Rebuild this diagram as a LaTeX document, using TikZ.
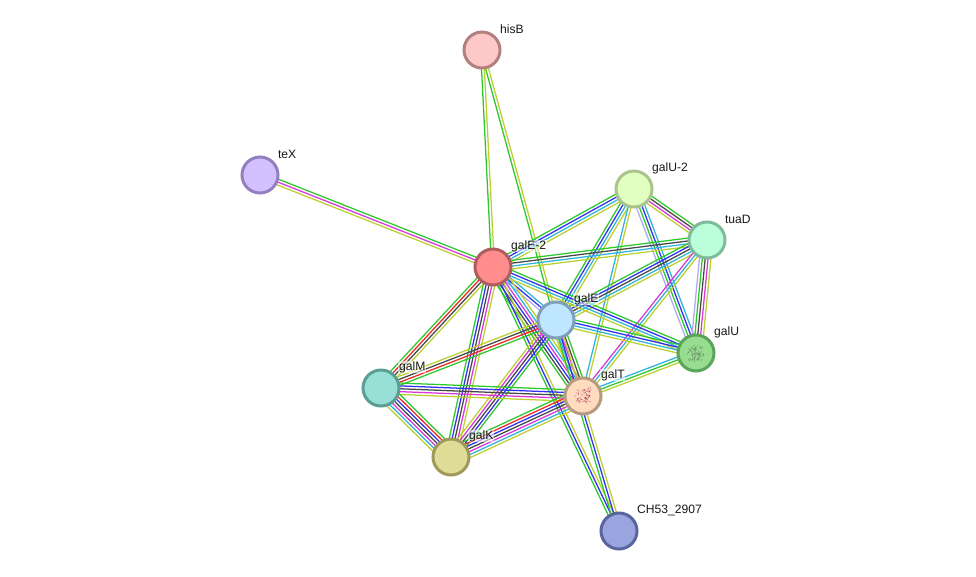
\documentclass[tikz,border=0pt]{standalone}
\usepackage{fontspec}
\setmainfont{Liberation Sans}
\usetikzlibrary{calc}

\definecolor{lkgreen}{HTML}{2CC82C}
\definecolor{lkred}{HTML}{F02828}
\definecolor{lkblue}{HTML}{3030F0}
\definecolor{lkcyan}{HTML}{30B4DC}
\definecolor{lkmag}{HTML}{D838D8}
\definecolor{lkyel}{HTML}{BCD030}
\definecolor{lkblack}{HTML}{484848}
\definecolor{lklil}{HTML}{B0A8F0}

% fill and rim colours of the proteins
\newcommand{\pcolours}[3]{\definecolor{f#1}{HTML}{#2}\definecolor{d#1}{HTML}{#3}}
\pcolours{hisB}{FFC8C8}{B38080}
\pcolours{teX}{D3C0FF}{9480C0}
\pcolours{galUb}{E2FFC2}{AAC48C}
\pcolours{tuaD}{BAFFDA}{7FBA9A}
\pcolours{galEb}{FF8D8D}{B05D5D}
\pcolours{galE}{BFE6FF}{7FA0B8}
\pcolours{galU}{98DC90}{5AA55A}
\pcolours{galM}{98E0D5}{5A9E95}
\pcolours{galT}{FFDCC0}{B89A80}
\pcolours{galK}{DEDC96}{9D9A5A}
\pcolours{CH}{9AA5E0}{5A65A0}

\tikzset{
  protein/.style={circle, draw=d#1, fill=f#1, line width=2.25pt, minimum size=27pt, inner sep=0pt},
  genelabel/.style={anchor=west, font=\fontsize{9.1pt}{10pt}\selectfont, text=black!90,
    fill=white, fill opacity=.55, text opacity=1, inner sep=.6pt},
  strand/.style={line width=.95pt}
}

% A bundle of parallel coloured strands between two named proteins.
% #1, #2: proteins; #3: number of strands; #4: their colours
\newcommand{\bundle}[4]{%
  \foreach \col [count=\k] in {#4} {%
    \pgfmathsetmacro{\off}{(\k-(#3+1)/2)*2.15}%
    \draw[strand, color=\col]
      ($(#1)!\off pt!90:(#2)$) -- ($(#2)!\off pt!-90:(#1)$);
  }%
}

% Small ribbon-like scribble drawn inside a structure-bearing protein.
\newcommand{\scribble}[3]{%
  \pgfmathsetseed{#3}%
  \foreach \j in {1,...,55} {%
    \pgfmathsetmacro{\ax}{7*rand}\pgfmathsetmacro{\ay}{7*rand}%
    \pgfmathsetmacro{\bx}{\ax+3*rand}\pgfmathsetmacro{\by}{\ay+3*rand}%
    \draw[color=#2, line width=.25pt, opacity=.6] ($(#1)+(\ax,\ay)$) -- ($(#1)+(\bx,\by)$);
  }%
}

\begin{document}
\begin{tikzpicture}[x=.75pt, y=-.75pt]
\useasboundingbox (0,0) rectangle (976,576);
\fill[white] (0,0) rectangle (976,576);

% protein positions
\coordinate (phisB) at (482,50);
\coordinate (pteX)  at (260,175);
\coordinate (pgalUb) at (634,189);
\coordinate (ptuaD) at (707,240);
\coordinate (pgalEb) at (493,267);
\coordinate (pgalE) at (556,320);
\coordinate (pgalU) at (696,353);
\coordinate (pgalM) at (381,388);
\coordinate (pgalT) at (583,396);
\coordinate (pgalK) at (451,457);
\coordinate (pCH)   at (619,531);

% evidence links
\bundle{phisB}{pgalEb}{2}{lkgreen,lkyel}
\bundle{phisB}{pgalE}{2}{lkgreen,lkyel}
\bundle{pteX}{pgalEb}{3}{lkyel,lkmag,lkgreen}
\bundle{pgalUb}{ptuaD}{4}{lkyel,lkmag,lkblack,lkgreen}
\bundle{pgalUb}{pgalEb}{4}{lkgreen,lkblue,lkcyan,lkyel}
\bundle{pgalUb}{pgalE}{4}{lkgreen,lkblue,lkcyan,lkyel}
\bundle{pgalUb}{pgalT}{2}{lkcyan,lkyel}
\bundle{pgalUb}{pgalU}{4}{lklil,lkgreen,lkblue,lkcyan}
\bundle{ptuaD}{pgalEb}{4}{lkgreen,lkblack,lkcyan,lkyel}
\bundle{ptuaD}{pgalE}{5}{lkgreen,lkblue,lkblack,lkcyan,lkyel}
\bundle{ptuaD}{pgalT}{3}{lkmag,lkcyan,lkyel}
\bundle{ptuaD}{pgalU}{5}{lklil,lkgreen,lkblack,lkmag,lkyel}
\bundle{pgalEb}{pgalE}{3}{lklil,lkblue,lkcyan}
\bundle{pgalEb}{pgalU}{4}{lkyel,lkcyan,lkblue,lkgreen}
\bundle{pgalEb}{pgalM}{4}{lkgreen,lkred,lkblack,lkyel}
\bundle{pgalEb}{pgalK}{5}{lkgreen,lkblue,lkblack,lkmag,lkyel}
\bundle{pgalEb}{pgalT}{6}{lkgreen,lkblack,lkblue,lkmag,lkcyan,lkyel}
\bundle{pgalEb}{pCH}{3}{lkgreen,lkblue,lkyel}
\bundle{pgalE}{pgalU}{4}{lkyel,lkcyan,lkblue,lkgreen}
\bundle{pgalE}{pgalM}{4}{lkyel,lkblack,lkred,lkgreen}
\bundle{pgalE}{pgalK}{5}{lkyel,lkmag,lkblack,lkblue,lkgreen}
\bundle{pgalE}{pgalT}{5}{lkyel,lkcyan,lkmag,lkblack,lkgreen}
\bundle{pgalE}{pCH}{3}{lkgreen,lkblue,lkyel}
\bundle{pgalT}{pgalU}{3}{lkyel,lkgreen,lkcyan}
\bundle{pgalM}{pgalT}{5}{lkyel,lkmag,lkblack,lkblue,lkgreen}
\bundle{pgalM}{pgalK}{7}{lkyel,lkcyan,lkmag,lkblack,lkblue,lkred,lkgreen}
\bundle{pgalK}{pgalT}{7}{lkyel,lkcyan,lkmag,lkblack,lkblue,lkred,lkgreen}

% proteins
\node[protein=hisB] (hisB) at (phisB) {};
\node[protein=teX] (teX)  at (pteX) {};
\node[protein=galUb] (galUb) at (pgalUb) {};
\node[protein=tuaD] (tuaD) at (ptuaD) {};
\node[protein=galEb] (galEb) at (pgalEb) {};
\node[protein=galE] (galE) at (pgalE) {};
\node[protein=galU] (galU) at (pgalU) {};
\node[protein=galM] (galM) at (pgalM) {};
\node[protein=galT] (galT) at (pgalT) {};
\node[protein=galK] (galK) at (pgalK) {};
\node[protein=CH] (CH)   at (pCH) {};

\scribble{galU}{black!75}{7}
\scribble{galT}{purple!75!black}{11}

% gene names
\node[genelabel] (lhisB) at ($(hisB)+(17,-21)$) {hisB};
\node[genelabel] (lteX)  at ($(teX)+(17,-21)$) {teX};
\node[genelabel] (lgalUb) at ($(galUb)+(17,-21)$) {galU-2};
\node[genelabel] (ltuaD) at ($(tuaD)+(17,-21)$) {tuaD};
\node[genelabel] (lgalEb) at ($(galEb)+(17,-21)$) {galE-2};
\node[genelabel] (lgalE) at ($(galE)+(17,-21)$) {galE};
\node[genelabel] (lgalU) at ($(galU)+(17,-21)$) {galU};
\node[genelabel] (lgalM) at ($(galM)+(17,-21)$) {galM};
\node[genelabel] (lgalT) at ($(galT)+(17,-21)$) {galT};
\node[genelabel] (lgalK) at ($(galK)+(17,-21)$) {galK};
\node[genelabel] (lCH)   at ($(CH)+(17,-21)$) {CH53\_2907};
\end{tikzpicture}
\end{document}
